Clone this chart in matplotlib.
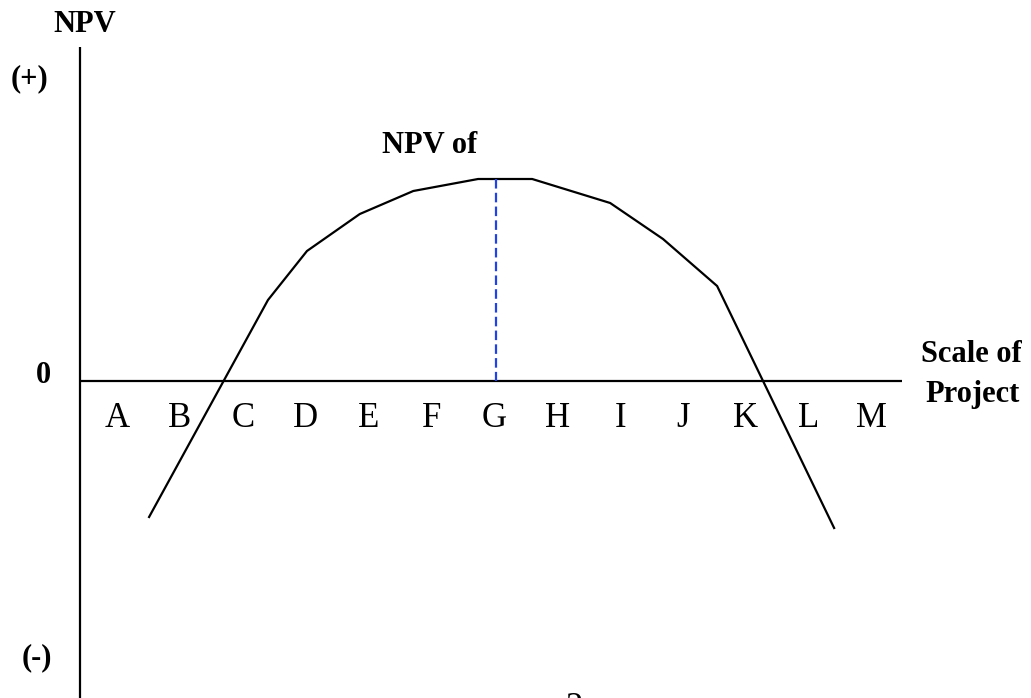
import matplotlib.pyplot as plt

# Scale-of-project categories (A..M) and the NPV profile (arbitrary units)
labels = ["A", "B", "C", "D", "E", "F", "G", "H", "I", "J", "K", "L", "M"]
curve_x = [0.51, 2.40, 3.02, 3.86, 4.71, 5.74, 6.60, 7.84, 8.68, 9.54, 11.40]
curve_npv = [-2.72, 1.62, 2.60, 3.34, 3.80, 4.04, 4.04, 3.56, 2.84, 1.90, -2.94]
peak_x = 6          # position of G
peak_npv = 4.04

W, H = 1031, 698
fig = plt.figure(figsize=(W / 100, H / 100), dpi=100)
ax = fig.add_axes([0, 0, 1, 1])
ax.set_xlim(-1.860, 14.53)
ax.set_ylim(-6.34, 7.62)
ax.axis("off")

serif = ["Liberation Serif", "DejaVu Serif"]

# axes drawn by hand
x_axis_left = -0.588
ax.plot([x_axis_left, x_axis_left], [6.68, -6.5], color="black", lw=1.6,
        solid_capstyle="butt", clip_on=False)
ax.plot([x_axis_left, 12.48], [0, 0], color="black", lw=1.6, solid_capstyle="butt")

# NPV curve
ax.plot(curve_x, curve_npv, color="black", lw=1.6, solid_joinstyle="miter")

# dashed drop line at the optimum
ax.plot([peak_x + 0.03, peak_x + 0.03], [peak_npv, 0], color="#1f43e8", lw=1.6,
        linestyle=(0, (4.3, 1.9)))

# category letters under the axis, placed on the data x scale
for i, lab in enumerate(labels):
    ax.annotate(lab, xy=(i, 0), xycoords="data", xytext=(0, -33),
                textcoords="offset points", ha="center", va="baseline",
                fontsize=25, family=serif)


def label(px, py, s, **kw):
    fig.text(px / W, 1 - py / H, s, ha="center", va="baseline",
             fontsize=22, fontweight="bold", family=serif, **kw)


label(85, 32, "NPV")
label(29, 86, "(+)")
label(43, 383, "0")
label(37, 665, "(-)")
label(430, 153, "NPV of")
label(971, 362, "Scale of")
label(973, 402, "Project")
# page number, cut by the bottom edge as in the source
fig.text(574 / W, 1 - 717 / H, "2", ha="center", va="baseline", fontsize=25,
         family=serif)

plt.savefig("out.png", dpi=100)
